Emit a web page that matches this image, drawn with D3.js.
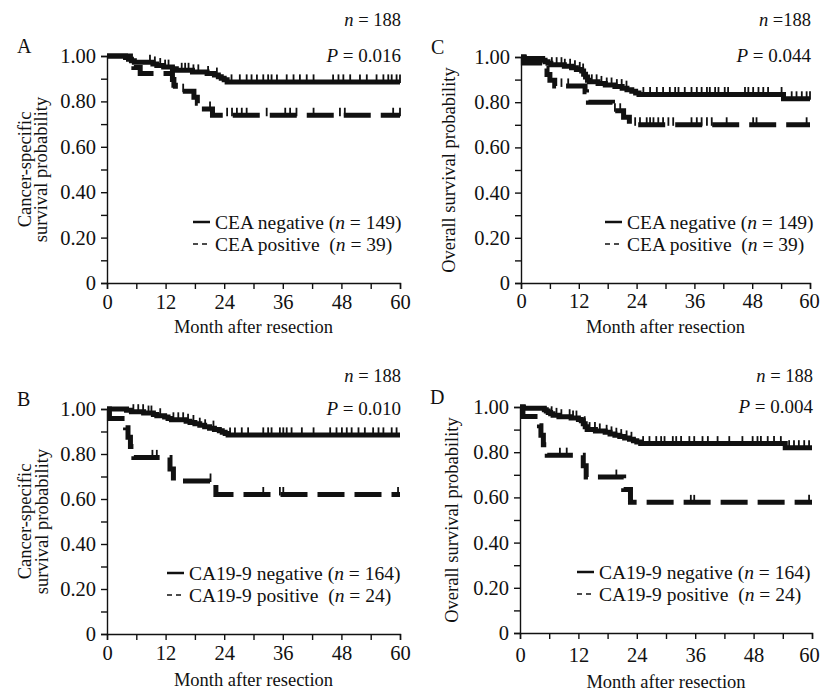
<!DOCTYPE html>
<html>
  <head>
    <title>Survival curves by CEA and CA19-9</title>
    <script src="https://cdn.jsdelivr.net/npm/d3@7"></script>
    <style>
      body { margin: 0; background: #fff; }
      svg text { font-family: "Liberation Serif", "Times New Roman", serif; font-size: 18.5px; fill: #111; }
      .axis path, .axis line { stroke: #111; stroke-width: 1.4; }
      .legend text { font-size: 19.5px; }
    </style>
  </head>
  <body>
    <svg width="821" height="692"></svg>
    <script>
      // tick labels
      var monthTicks = [0, 6, 12, 18, 24, 30, 36, 42, 48, 54, 60];
      var monthLabels = [0, 12, 24, 36, 48, 60];
      var probTicks = [0, 0.1, 0.2, 0.3, 0.4, 0.5, 0.6, 0.7, 0.8, 0.9, 1.0];
      var probLabels = {"0": "0", "0.2": "0.20", "0.4": "0.40", "0.6": "0.60", "0.8": "0.80", "1": "1.00"};

      // A: cancer-specific survival, CEA
      var cssCeaNeg = [[0,1],[3.8,0.993],[4.4,0.986],[5.0,0.979],[5.6,0.972],[9.4,0.965],[10.2,0.958],[11.6,0.951],[13.4,0.944],[14.2,0.937],[17.5,0.93],[20.5,0.923],[22.0,0.916],[22.8,0.909],[23.4,0.902],[24.0,0.895],[24.6,0.886]];
      var cssCeaNegCens = [8.8,9.8,10.9,11.9,12.6,15.3,16,16.7,17.7,18.7,20.7,22.5,25.5,27.2,28.6,29.6,30.7,32,33,33.7,34.8,36.8,38.2,39.5,40.9,42.3,46.3,47.4,48.4,49.8,51.8,53.2,55.2,56.6,57.6,58.3,59.3,60];
      var cssCeaPos = [[0,1],[4.8,0.974],[5.5,0.949],[6.8,0.923],[13.4,0.897],[13.7,0.871],[14.0,0.845],[17.8,0.818],[18.5,0.792],[19.3,0.766],[21.6,0.739]];
      var cssCeaPosCens = [15.6,21.1,24.6,25.6,26.6,27.6,28.6,32.7,36.5,37.5,38.8,42.3,47.7,48.7,58.6,60];

      // C: overall survival, CEA
      var osCeaNeg = [[0,1],[0.7,0.993],[4.5,0.986],[5.0,0.979],[5.6,0.972],[6.2,0.966],[9.0,0.959],[10.5,0.952],[11.5,0.945],[12.6,0.938],[13.0,0.924],[13.4,0.911],[13.8,0.897],[14.2,0.89],[16.0,0.883],[17.5,0.876],[19.5,0.869],[21.0,0.862],[22.0,0.855],[23.0,0.848],[23.8,0.841],[24.5,0.834],[54.5,0.815]];
      var osCeaNegCens = [6.4,7.4,8.4,9.1,10.2,11.2,12.2,12.9,14.7,15.7,16.7,17.8,18.8,19.9,20.9,21.9,25.4,26.8,28.2,29.5,30.9,32,32.7,34,35.4,36.5,37.5,38.6,39.2,40.3,41,42.3,43,46.5,47.2,48.2,49.3,50.3,51.3,54.1,56.2,57.2,58.3,59.3,60];
      var osCeaPos = [[0,1],[0.5,0.974],[4.8,0.949],[5.4,0.923],[6.0,0.897],[7.0,0.872],[13.3,0.846],[13.6,0.82],[14.0,0.80],[19.0,0.774],[19.4,0.762],[21.3,0.733],[22.5,0.70]];
      var osCeaPosCens = [8.4,9.8,19.5,20.6,23.7,24.7,26.1,26.8,27.5,28.5,29.5,30.6,31.6,35.4,36.5,37.5,38.6,39.6,42.7,48.2,48.9,59.3];

      // B: cancer-specific survival, CA19-9
      var cssCaNeg = [[0,1],[4.0,0.994],[5.0,0.988],[7.5,0.982],[9.5,0.976],[10.2,0.97],[11.8,0.964],[12.5,0.958],[13.2,0.952],[16.2,0.946],[17.0,0.94],[18.0,0.934],[19.0,0.928],[20.0,0.921],[21.0,0.915],[22.0,0.909],[23.0,0.903],[23.6,0.897],[24.2,0.891],[24.8,0.885]];
      var cssCaNegCens = [5.4,6.4,7.4,8.5,9.1,10.9,13.6,14.6,15.6,16.6,17.7,19,20.1,21.8,25.2,26.2,27.6,28.9,32,33,33.7,35.4,36.1,36.8,37.8,39.9,42.3,45.7,47,48.1,49.1,50.1,51.5,52.8,54.5,55.6,56.6,58.3,59.3];
      var cssCaPos = [[0,1],[0.5,0.958],[3.8,0.917],[4.3,0.875],[4.8,0.833],[5.5,0.785],[12.9,0.733],[13.6,0.68],[22.3,0.62]];
      var cssCaPosCens = [9.3,10.2,21.2,32.0,35.4,36.1,59.6];

      // D: overall survival, CA19-9
      var osCaNeg = [[0,1],[0.7,0.994],[5.0,0.988],[5.4,0.982],[5.8,0.976],[6.3,0.97],[6.8,0.963],[8.0,0.957],[10.5,0.951],[12.0,0.945],[12.6,0.939],[13.0,0.926],[13.4,0.913],[13.8,0.9],[15.5,0.894],[17.5,0.888],[18.5,0.881],[19.5,0.875],[20.5,0.869],[21.5,0.863],[22.5,0.857],[23.3,0.851],[24.0,0.845],[24.8,0.838],[54.5,0.82]];
      var osCaNegCens = [6.5,7.5,8.5,10.2,10.9,11.6,13.3,14.3,15.4,16.4,17.8,18.8,19.8,20.8,21.9,22.9,25.3,26.6,28,29,29.7,31.4,32.1,33.1,34.8,35.8,37.5,38.6,40.6,43,45.7,47.8,48.8,49.5,50.9,52.2,53.6,55.3,56.3,57.3,58.4,59.4];
      var osCaPos = [[0,1],[0.6,0.958],[4.0,0.917],[4.3,0.875],[4.8,0.833],[5.6,0.787],[13.0,0.74],[13.6,0.69],[21.3,0.635],[22.7,0.578]];
      var osCaPosCens = [8.2,9.6,19.8,35.1,35.8,59.4];

      var ceaLegend = ["CEA negative (", "n", " = 149)", "CEA positive  (", "n", " = 39)"];
      var caLegend = ["CA19-9 negative (", "n", " = 164)", "CA19-9 positive  (", "n", " = 24)"];

      var panels = [
        {letter: "A", x0: 107, x1: 400, yTop: 56, yBot: 283, title: ["Cancer-specific", "survival probability"], titleX: [31, 47],
         neg: cssCeaNeg, negC: cssCeaNegCens, pos: cssCeaPos, posC: cssCeaPosCens, legend: ceaLegend, lx: 193,
         nText: " = 188", pText: " = 0.016", nY: 26, pY: 62, tickY: 5, xTitleY: 333, lastDx: 0},
        {letter: "C", x0: 521, x1: 810, yTop: 57, yBot: 283, title: ["Overall survival probability"], titleX: [455],
         neg: osCeaNeg, negC: osCeaNegCens, pos: osCeaPos, posC: osCeaPosCens, legend: ceaLegend, lx: 605,
         nText: " =188", pText: " = 0.044", nY: 26, pY: 62, tickY: 4.5, xTitleY: 333, lastDx: -1},
        {letter: "B", x0: 107, x1: 400, yTop: 409, yBot: 634, title: ["Cancer-specific", "survival probability"], titleX: [31, 48],
         neg: cssCaNeg, negC: cssCaNegCens, pos: cssCaPos, posC: cssCaPosCens, legend: caLegend, lx: 167,
         nText: " = 188", pText: " = 0.010", nY: 382, pY: 415, tickY: 5, xTitleY: 686, lastDx: 0},
        {letter: "D", x0: 520, x1: 812, yTop: 407, yBot: 633, title: ["Overall survival probability"], titleX: [458],
         neg: osCaNeg, negC: osCaNegCens, pos: osCaPos, posC: osCaPosCens, legend: caLegend, lx: 577,
         nText: " = 188", pText: " = 0.004", nY: 382, pY: 413, tickY: 8, xTitleY: 688, lastDx: -3}
      ];

      var svg = d3.select("svg");

      function valueAt(steps, t) {
        var v = steps[0][1];
        steps.forEach(function(s) { if (s[0] <= t) v = s[1]; });
        return v;
      }

      panels.forEach(function(p) {
        var g = svg.append("g");
        var x = d3.scaleLinear().domain([0, 60]).range([p.x0, p.x1]);
        var y = d3.scaleLinear().domain([0, 1]).range([p.yBot, p.yTop]);

        // axes
        var xa = g.append("g")
          .attr("class", "axis")
          .attr("transform", "translate(0," + p.yBot + ")")
          .call(d3.axisBottom(x).tickValues(monthTicks).tickSizeOuter(0).tickSize(6).tickPadding(p.tickY)
            .tickFormat(function(d) { return monthLabels.indexOf(d) >= 0 ? d : ""; }));
        xa.selectAll(".tick text").filter(function(d) { return d === 60; }).attr("dx", p.lastDx);
        g.append("g")
          .attr("class", "axis")
          .attr("transform", "translate(" + p.x0 + ",0)")
          .call(d3.axisLeft(y).tickValues(probTicks).tickSizeOuter(0).tickSize(6).tickPadding(5)
            .tickFormat(function(d) { var k = String(+d.toFixed(1)); return probLabels[k] || ""; }));
        g.selectAll(".axis text").attr("fill", "#111").style("font-size", "20.5px")
          .style("font-family", "'Liberation Serif', 'Times New Roman', serif");

        // curves
        var line = d3.line()
          .x(function(d) { return x(d[0]); })
          .y(function(d) { return y(d[1]); })
          .curve(d3.curveStepAfter);

        [[p.neg, p.negC, null], [p.pos, p.posC, "27,10"]].forEach(function(s) {
          var steps = s[0].concat([[60, s[0][s[0].length - 1][1]]]);
          g.append("path")
            .attr("d", line(steps))
            .attr("fill", "none")
            .attr("stroke", "#111")
            .attr("stroke-width", 5)
            .attr("stroke-dasharray", s[2]);
          g.selectAll(null)
            .data(s[1])
            .enter().append("line")
            .attr("x1", function(t) { return x(t); })
            .attr("x2", function(t) { return x(t); })
            .attr("y1", function(t) { return y(valueAt(s[0], t)) - 7.5; })
            .attr("y2", function(t) { return y(valueAt(s[0], t)) + 1; })
            .attr("stroke", "#111")
            .attr("stroke-width", 1.8);
        });

        // panel letter
        g.append("text").attr("x", p.x0 - 90).attr("y", p.yTop - 3)
          .style("font-size", "20px").text(p.letter);

        // n and P
        var nt = g.append("text").attr("x", p.x1 + 1).attr("y", p.nY).attr("text-anchor", "end").style("white-space", "pre");
        nt.append("tspan").style("font-style", "italic").text("n");
        nt.append("tspan").text(p.nText);
        var pt = g.append("text").attr("x", p.x1 + 1).attr("y", p.pY).attr("text-anchor", "end")
          .style("white-space", "pre").style("font-size", "19px");
        pt.append("tspan").style("font-style", "italic").text("P");
        pt.append("tspan").text(p.pText);

        // y title
        var cy = (p.yTop + p.yBot) / 2;
        p.title.forEach(function(t, i) {
          g.append("text")
            .attr("transform", "translate(" + p.titleX[i] + "," + cy + ") rotate(-90)")
            .attr("text-anchor", "middle")
            .text(t);
        });

        // x title
        g.append("text")
          .attr("x", (p.x0 + p.x1) / 2)
          .attr("y", p.xTitleY)
          .attr("text-anchor", "middle")
          .text("Month after resection");

        // legend
        var ly = p.yBot - 61;
        var lg = g.append("g").attr("class", "legend");
        [0, 1].forEach(function(i) {
          var yy = ly + i * 22;
          lg.append("line")
            .attr("x1", p.lx).attr("x2", p.lx + 17)
            .attr("y1", yy).attr("y2", yy)
            .attr("stroke", "#111")
            .attr("stroke-width", i === 0 ? 2.5 : 1.6)
            .attr("stroke-dasharray", i === 0 ? null : "5,4");
          var lt = lg.append("text")
            .attr("x", p.lx + 22)
            .attr("y", yy + 6.5)
            .style("white-space", "pre");
          lt.append("tspan").text(p.legend[i * 3]);
          lt.append("tspan").style("font-style", "italic").text(p.legend[i * 3 + 1]);
          lt.append("tspan").text(p.legend[i * 3 + 2]);
        });
      });
    </script>
  </body>
</html>
